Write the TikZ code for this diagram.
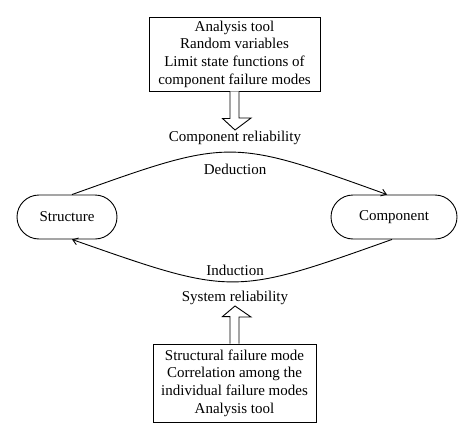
\documentclass[tikz,border=0pt]{standalone}
\usepackage{fontspec}
\setmainfont{Liberation Serif}
\usetikzlibrary{arrows.meta}
\begin{document}
\begin{tikzpicture}[x=1pt,y=-1pt,
  every node/.style={font=\fontsize{15}{17.7}\selectfont, inner sep=0pt},
  infobox/.style={draw, line width=0.9pt, align=center, minimum width=#1},
  pill/.style={draw, line width=0.9pt, rounded corners=22pt, minimum height=44pt, minimum width=#1},
  flow/.style={line width=0.9pt, -{Straight Barb[length=5pt,width=7pt]}},
  hollow/.style={draw, line width=0.9pt, fill=white, line join=miter}
]
\useasboundingbox (0,0) rectangle (474,439);
\fill[white] (0,0) rectangle (474,439);

\node[infobox=171pt, minimum height=74pt] (top) at (234.5,54) {Analysis tool\\Random variables\\Limit state functions of\\component failure modes};
\node (crel) at (235,138) {Component reliability};

\node[pill=100pt] (struct) at (67,217) {Structure};
\node[pill=126pt] (comp) at (394,217) {Component};

\node (ded) at (235,169) {Deduction};
\node (ind) at (235,270) {Induction};

\node (srel) at (235,298) {System reliability};
\node[infobox=163pt, minimum height=78pt] (bot) at (234.5,383) {Structural failure mode\\Correlation among the\\individual failure modes\\Analysis tool};

% hollow arrows
\draw[hollow] ([xshift=-4.5pt]top.south) -- ++(0,27) -- ++(-7.5,0) -- (235,130) -- ([xshift=16.5pt]top.south |- 0,118) -- ([xshift=4.5pt]top.south |- 0,118) -- ([xshift=4.5pt]top.south);
\draw[hollow] ([xshift=-4.5pt]bot.north) -- ++(0,-27) -- ++(-7.5,0) -- (235,306) -- ([xshift=16.5pt]bot.north |- 0,317) -- ([xshift=4.5pt]bot.north |- 0,317) -- ([xshift=4.5pt]bot.north);

% arcs
\draw[flow] ([xshift=5pt]struct.north) .. controls (230,138) and (230,138) .. ([xshift=-7pt]comp.north);
\draw[flow] ([xshift=-2pt]comp.south) .. controls (233,296) and (233,296) .. ([xshift=5pt]struct.south);
\end{tikzpicture}
\end{document}
